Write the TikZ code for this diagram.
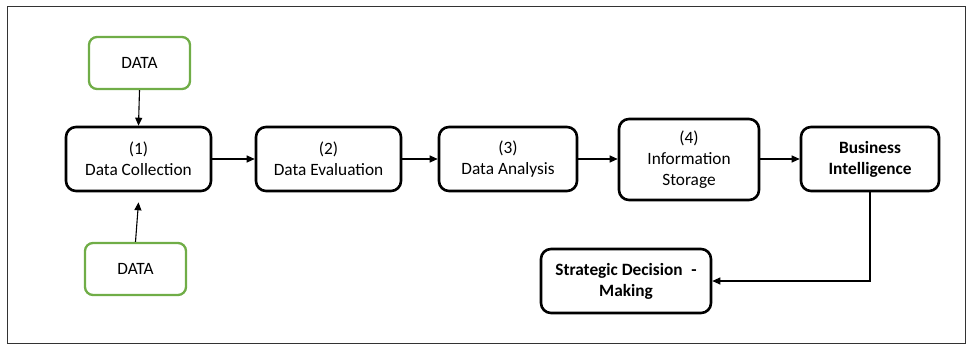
\documentclass[tikz,border=0pt]{standalone}
\usepackage{fontspec}
\setmainfont{Carlito}
\usetikzlibrary{arrows.meta}
\definecolor{boxgreen}{HTML}{70AD47}
\definecolor{framegray}{HTML}{333333}
\tikzset{
  stepbox/.style={draw=black, line width=2.6pt, rounded corners=10pt, align=center, inner sep=0pt,
    font=\fontsize{17.3}{21}\selectfont},
  databox/.style={draw=boxgreen, line width=2.3pt, rounded corners=8pt, align=center, inner sep=0pt,
    minimum width=101pt, minimum height=52pt, font=\fontsize{17.3}{21}\selectfont},
  arr/.style={line width=1.1pt, -{Triangle[length=8pt,width=7pt]}},
}
\begin{document}
\begin{tikzpicture}[x=1pt,y=-1pt]
\useasboundingbox (0,0) rectangle (968,345);
\draw[framegray, line width=1pt] (7,7) rectangle (965,343);

\node[databox] (dtop) at (139.5,63) {DATA};
\node[databox] (dbot) at (135.5,269) {DATA};

\node[stepbox, minimum width=145pt, minimum height=64pt] (n1) at (138.5,159) {(1)\\Data Collection};
\node[stepbox, minimum width=145pt, minimum height=64pt] (n2) at (328.5,159) {(2)\\Data Evaluation};
\node[stepbox, minimum width=138pt, minimum height=64pt] (n3) at (508,159) {(3)\\Data Analysis};
\node[stepbox, minimum width=140pt, minimum height=81pt] (n4) at (689,159.5) {(4)\\Information\\Storage};
\node[stepbox, minimum width=138pt, minimum height=64pt, font=\fontsize{17.3}{21}\selectfont\bfseries] (bi) at (870,159) {Business\\Intelligence};
\node[stepbox, minimum width=170pt, minimum height=64pt, font=\fontsize{17.3}{21}\selectfont\bfseries] (sdm) at (626,281) {Strategic Decision\hspace{0.5em}-\\Making};

\draw[arr] (dtop.south) -- (n1.north);
\draw[arr] (dbot.north) -- ([yshift=-10pt]n1.south);
\draw[arr] (n1.east) -- (n2.west);
\draw[arr] (n2.east) -- (n3.west);
\draw[arr] (n3.east) -- (n4.west |- n3.east);
\draw[arr] (n4.east |- bi.west) -- (bi.west);
\draw[arr] (bi.south) |- (sdm.east);
\end{tikzpicture}
\end{document}
